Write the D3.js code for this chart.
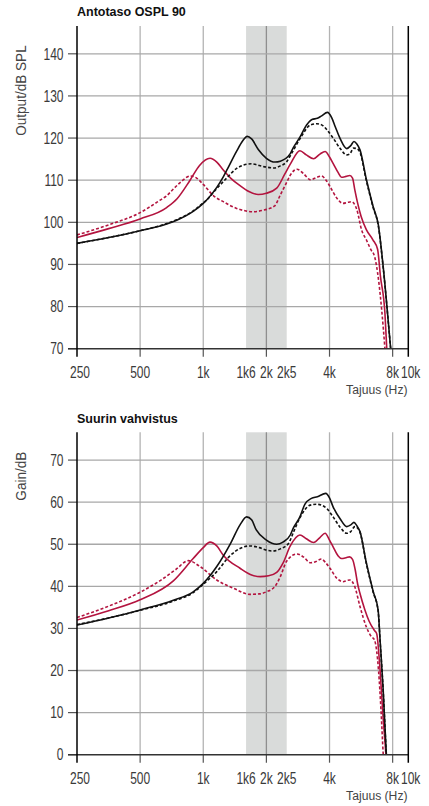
<!DOCTYPE html>
<html><head><meta charset="utf-8">
<script src="https://cdn.jsdelivr.net/npm/d3@7"></script>
<style>body{margin:0;background:#fff}svg{display:block}</style>
</head><body><svg id="c" width="429" height="806"></svg>
<script>
// ---------- data ----------
const xTickHz = [250, 500, 1000, 1600, 2000, 2500, 4000, 8000, 10000];
const xTickLabels = ["250", "500", "1k", "1k6", "2k", "2k5", "4k", "8k", "10k"];
const xGridHz = [500, 1000, 2000, 4000, 8000];
const bandHz = [1600, 2500];
const osplTicks = [70, 80, 90, 100, 110, 120, 130, 140];
const gainTicks = [0, 10, 20, 30, 40, 50, 60, 70];

// OSPL 90 (dB SPL) : [Hz, dB]
const osplBlackSolid = [[250,95.0],[354,96.4],[500,98.0],[669,99.6],[747,100.5],[895,102.6],[1000,104.5],[1038,105.3],[1160,108.3],[1246,110.8],[1293,112.3],[1443,116.9],[1540,119.3],[1620,120.4],[1700,119.8],[1830,117.3],[2000,115.2],[2200,114.3],[2330,114.5],[2600,116.3],[2680,117.6],[2890,120.2],[3110,123.1],[3300,124.4],[3500,124.7],[3650,125.2],[3910,126.1],[4100,124.8],[4260,122.7],[4500,119.8],[4830,117.5],[5050,118.2],[5230,119.2],[5400,118.6],[5590,117.2],[6000,110.1],[6460,103.7],[6830,99.5],[7210,89.5],[7830,70],[8000,65]];
const osplBlackDash = [[250,95.0],[354,96.4],[500,98.0],[669,99.7],[747,100.6],[895,102.7],[1000,104.6],[1038,105.3],[1160,108.0],[1293,110.5],[1443,112.8],[1560,113.6],[1700,113.9],[1850,113.5],[2000,113.1],[2180,112.9],[2330,113.4],[2500,114.4],[2600,115.8],[2890,119.8],[3240,123.1],[3480,123.4],[3700,123.0],[3880,122.0],[4160,120.0],[4500,117.5],[4830,116.0],[5000,116.2],[5200,117.6],[5400,117.5],[5590,116.6],[6000,109.8],[6460,103.5],[6830,99.3],[7210,89.3],[7830,70],[8000,65]];
const osplRedSolid = [[250,96.4],[354,98.5],[500,100.8],[669,103.5],[750,105.6],[865,110.0],[960,113.5],[1077,115.2],[1160,114.3],[1246,112.4],[1350,110.5],[1497,108.7],[1650,107.3],[1830,106.6],[2000,106.9],[2240,108.1],[2450,111.5],[2600,113.8],[2890,117.0],[3100,116.0],[3360,115.1],[3600,116.2],[3810,116.8],[4000,115.5],[4160,114.0],[4400,111.8],[4560,110.7],[4800,110.9],[5000,111.1],[5150,110.5],[5280,107.7],[5450,104.5],[5660,101.4],[6000,98.2],[6450,95.8],[6780,93.6],[7000,87.1],[7350,78.4],[7500,70],[7700,62]];
const osplRedDash = [[250,97.0],[354,99.4],[500,102.3],[620,105.2],[669,106.3],[720,107.9],[800,110.0],[865,111.0],[930,110.5],[1000,109.0],[1120,106.3],[1246,104.9],[1443,103.3],[1600,102.7],[1730,102.5],[1900,102.8],[2190,103.9],[2330,106.5],[2500,109.5],[2600,111.2],[2800,112.6],[3000,111.6],[3250,110.1],[3450,110.6],[3660,111.0],[3850,110.0],[4020,108.5],[4340,105.7],[4640,104.5],[4850,104.7],[5100,104.9],[5400,103.0],[5690,98.2],[6000,95.8],[6300,93.5],[6560,91.9],[6850,86.4],[7100,79],[7350,70],[7550,62]];

// Suurin vahvistus (Gain dB) : [Hz, dB]
const gainBlackSolid = [[250,30.8],[354,32.5],[500,34.4],[720,36.7],[895,38.7],[1000,40.7],[1160,44.7],[1350,50.2],[1497,54.6],[1610,56.5],[1700,55.8],[1790,53.4],[2000,51.0],[2240,50.0],[2400,50.5],[2600,52.2],[2680,53.7],[2890,56.5],[3050,59.5],[3280,60.9],[3500,61.3],[3840,62.1],[4000,61.0],[4160,58.9],[4500,56.0],[4830,54.2],[5050,54.6],[5230,55.2],[5400,54.4],[5590,53.0],[6000,45.5],[6460,38.8],[6820,34.4],[6970,27.2],[7210,15.4],[7460,0.4],[7700,-10]];
const gainBlackDash = [[250,30.9],[354,32.5],[500,34.3],[720,36.5],[895,38.5],[1000,40.5],[1160,43.5],[1350,47.4],[1497,49.0],[1670,49.6],[1850,49.2],[2000,48.6],[2150,48.4],[2330,48.9],[2550,50.2],[2700,53.0],[2890,56.3],[3240,59.3],[3480,59.5],[3700,59.2],[3880,58.5],[4160,56.5],[4500,54.0],[4830,52.6],[5050,53.0],[5280,54.2],[5450,53.8],[5590,52.8],[6000,45.3],[6460,38.6],[6820,34.2],[6970,27.0],[7210,15.2],[7460,0.2],[7700,-10]];
const gainRedSolid = [[250,32.0],[354,34.2],[500,36.8],[720,41.3],[895,46.6],[1000,49.2],[1077,50.5],[1160,49.6],[1246,47.4],[1497,44.3],[1700,42.7],[1870,42.3],[2050,42.5],[2240,43.3],[2400,45.5],[2600,49.6],[2890,52.2],[3100,51.3],[3360,50.4],[3600,51.6],[3810,52.6],[4000,51.0],[4160,49.4],[4400,47.2],[4560,46.6],[4800,46.8],[4980,47.0],[5150,46.4],[5300,44.0],[5450,40.5],[5590,38.3],[5900,34.4],[6180,31.7],[6550,29.5],[6710,28.8],[6970,20.0],[7200,9],[7430,0],[7600,-8]];
const gainRedDash = [[250,32.6],[354,35.3],[500,38.6],[620,41.3],[740,44.0],[850,46.1],[965,44.7],[1160,41.5],[1400,39.5],[1670,38.1],[1850,38.2],[2000,38.7],[2200,40.0],[2330,42.3],[2500,46.0],[2800,47.7],[3000,47.0],[3250,45.6],[3450,45.9],[3660,46.5],[3850,45.5],[4020,44.3],[4340,41.9],[4640,41.1],[4850,41.4],[5000,41.5],[5280,39.9],[5590,35.2],[6000,30.3],[6300,28.2],[6560,27.2],[6850,20.1],[7050,10],[7215,0],[7400,-8]];

// ---------- drawing ----------
const svg = d3.select("#c");
const RED = "#b3143f";
const SANS = "'Liberation Sans',Arial,Helvetica,sans-serif";
const x = d3.scaleLog().domain([250, 9500]).range([77, 408.3]);
const X0 = x.range()[0], X1 = x.range()[1];

// condensed text helper (horizontal squeeze, as in the original's narrow face)
function ctext(parent, tx, ty, str, opt) {
  const rot = opt.rotate ? ` rotate(${opt.rotate})` : "";
  return parent.append("text")
    .attr("transform", `translate(${tx},${ty})${rot} scale(${opt.sx},1)`)
    .attr("text-anchor", opt.anchor || "start")
    .attr("font-family", SANS).attr("font-size", opt.size)
    .attr("fill", opt.fill || "#3a3a3a").text(str);
}

function chart(o, idx) {
  const y = d3.scaleLinear().domain(o.dom).range([o.bottom, o.top]);
  const g = svg.append("g");
  // grey band
  g.append("rect").attr("x", x(bandHz[0])).attr("width", x(bandHz[1]) - x(bandHz[0]))
    .attr("y", o.top).attr("height", o.bottom - o.top).attr("fill", "#d9dbda");
  // vertical grid
  g.selectAll(".vg").data(xGridHz).join("line")
    .attr("x1", d => x(d)).attr("x2", d => x(d)).attr("y1", o.top).attr("y2", o.bottom)
    .attr("stroke", d => d === 2000 ? "#8f8f8f" : "#b3b3b3").attr("stroke-width", 1.3);
  // x tick marks below axis
  g.selectAll(".xt").data(xGridHz).join("line")
    .attr("x1", d => x(d)).attr("x2", d => x(d)).attr("y1", o.bottom).attr("y2", o.bottom + 8)
    .attr("stroke", "#555").attr("stroke-width", 1.2);
  // horizontal grid + y ticks
  const yt = o.ticks.filter(v => v !== o.dom[0]);
  g.selectAll(".hg").data(yt).join("line")
    .attr("x1", X0).attr("x2", X1).attr("y1", d => y(d)).attr("y2", d => y(d))
    .attr("stroke", "#a8a8a8").attr("stroke-width", 1.3);
  g.selectAll(".ytm").data(o.ticks).join("line")
    .attr("x1", 68).attr("x2", X0).attr("y1", d => y(d)).attr("y2", d => y(d))
    .attr("stroke", "#555").attr("stroke-width", 1.2);
  // curves
  const cid = "clip" + idx;
  svg.append("clipPath").attr("id", cid).append("rect")
    .attr("x", X0).attr("y", o.top).attr("width", X1 - X0).attr("height", o.bottom - o.top);
  const line = d3.line().x(d => x(d[0])).y(d => y(d[1])).curve(d3.curveMonotoneX);
  const cg = g.append("g").attr("clip-path", `url(#${cid})`);
  const series = [
    {d: o.redDash, c: RED, dash: "3,2"},
    {d: o.redSolid, c: RED, dash: null},
    {d: o.blackDash, c: "#111", dash: "3,2"},
    {d: o.blackSolid, c: "#111", dash: null}
  ];
  series.forEach(s => {
    cg.append("path").datum(s.d).attr("d", line).attr("fill", "none")
      .attr("stroke", s.c).attr("stroke-width", 1.6)
      .attr("stroke-dasharray", s.dash);
  });
  // axes lines
  g.append("line").attr("x1", 68).attr("x2", X1).attr("y1", o.bottom).attr("y2", o.bottom)
    .attr("stroke", "#333").attr("stroke-width", 1.6);
  g.append("line").attr("x1", X0).attr("x2", X0).attr("y1", o.top).attr("y2", o.bottom + 8)
    .attr("stroke", "#000").attr("stroke-width", 1.5);
  g.append("line").attr("x1", X1).attr("x2", X1).attr("y1", o.top).attr("y2", o.bottom + 8)
    .attr("stroke", "#000").attr("stroke-width", 1.5);
  // y labels
  o.ticks.forEach(v => ctext(g, 63.5, y(v) + 5.7, String(v), {sx: 0.75, size: 16, anchor: "end"}));
  // x labels
  xTickHz.forEach((v, i) => {
    const px = v >= 9500 ? X1 + 2.4 : x(v) + (i === 0 ? 3 : 0);
    ctext(g, px, o.bottom + 29.2, xTickLabels[i], {sx: 0.75, size: 16, anchor: "middle"});
  });
  // x title
  ctext(g, 407.5, o.bottom + 45, "Tajuus (Hz)", {sx: 0.9, size: 13.5, anchor: "end", fill: "#444"});
  // y title
  ctext(g, 26, o.top + 19.3, o.yTitle, {sx: 0.97, size: 14, anchor: "end", fill: "#444", rotate: -90});
  // chart title
  g.append("text").attr("x", 77).attr("y", o.titleY)
    .attr("font-family", SANS).attr("font-weight", "bold")
    .attr("font-size", 12.5).attr("fill", "#111").text(o.title);
}

chart({dom: [70, 146.6], top: 26, bottom: 348.7, ticks: osplTicks, title: "Antotaso OSPL 90", titleY: 16,
  yTitle: "Output/dB SPL", blackSolid: osplBlackSolid, blackDash: osplBlackDash,
  redSolid: osplRedSolid, redDash: osplRedDash}, 0);
chart({dom: [0, 76.6], top: 432.3, bottom: 754.7, ticks: gainTicks, title: "Suurin vahvistus", titleY: 422.7,
  yTitle: "Gain/dB", blackSolid: gainBlackSolid, blackDash: gainBlackDash,
  redSolid: gainRedSolid, redDash: gainRedDash}, 1);
</script>
</body></html>
